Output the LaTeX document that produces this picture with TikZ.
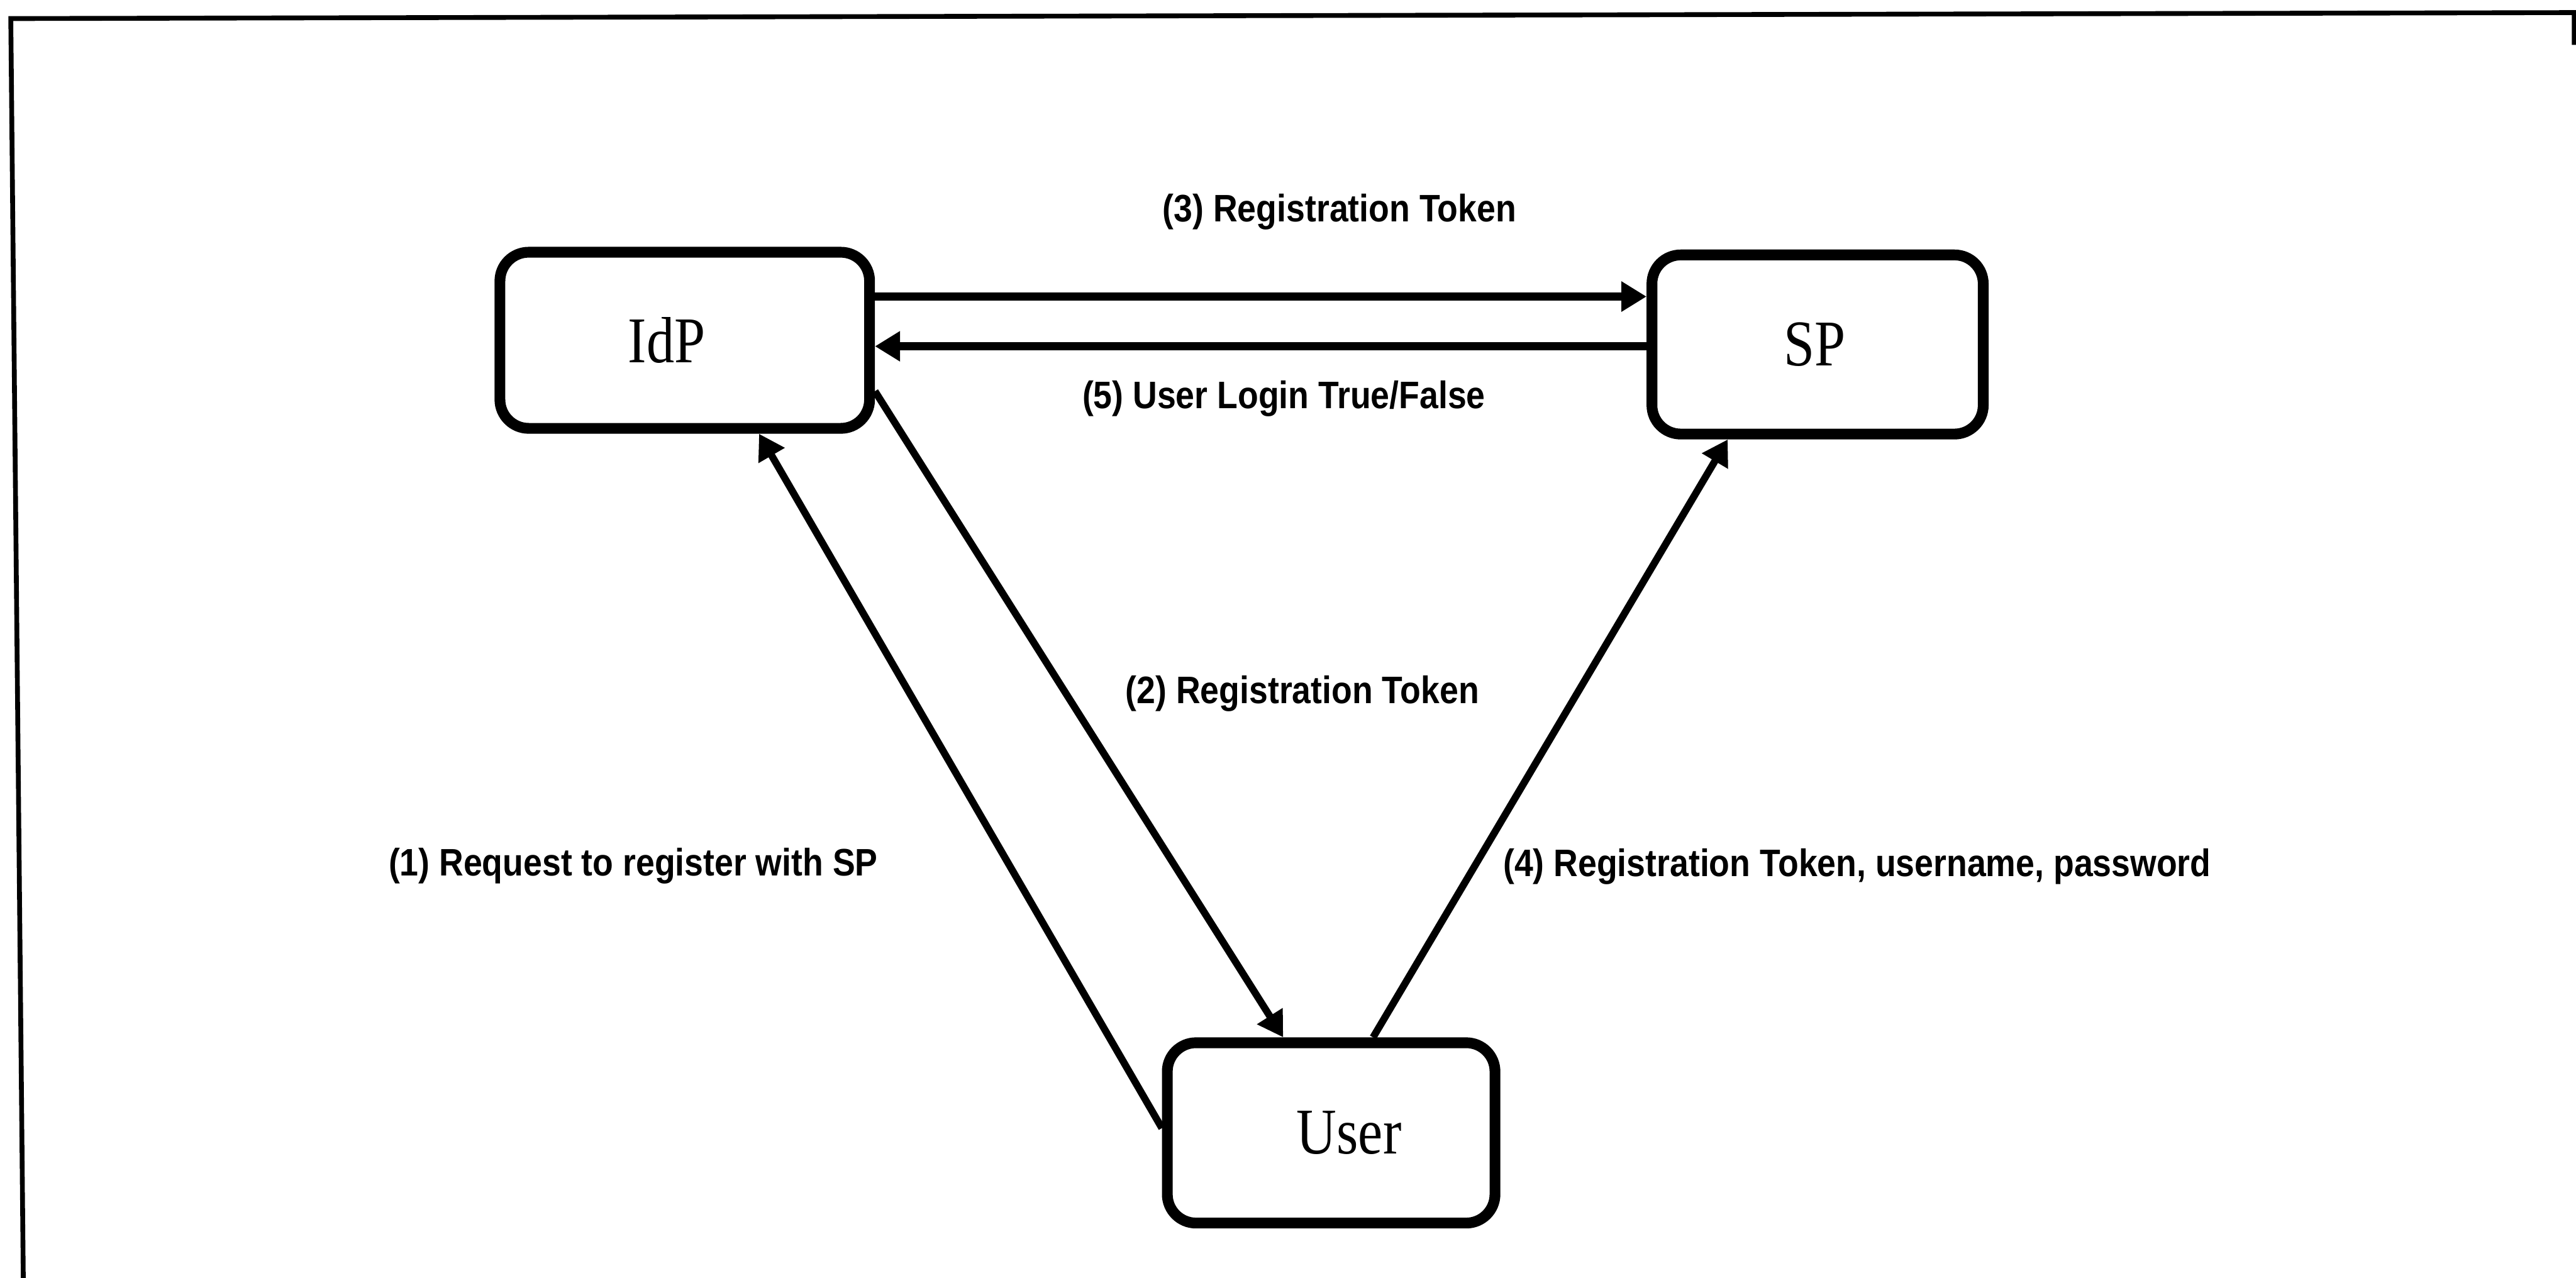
\documentclass[tikz,border=0pt]{standalone}
\usepackage{fontspec}
\setmainfont{Liberation Serif}
\newfontfamily\boxfont[FakeStretch=0.85]{Liberation Serif}
\newfontfamily\msgfont[FakeStretch=0.88]{Liberation Sans}
\usetikzlibrary{arrows.meta,calc}

\begin{document}
\begin{tikzpicture}[
  entity/.style={draw, line width=0.18cm, rounded corners=0.48cm, inner sep=0pt},
  entname/.style={font=\boxfont\fontsize{31pt}{34pt}\selectfont},
  flow/.style={line width=0.12cm, -{Triangle[length=0.42cm,width=0.48cm]}},
  hflow/.style={flow, line width=0.14cm},
  msg/.style={inner sep=0pt, font=\msgfont\bfseries\fontsize{18.2pt}{20pt}\selectfont}
]
% page and outer frame
\fill[white] (0,0) rectangle (43,-21.33);
\useasboundingbox (0,0) rectangle (43,-21.33);
\draw[line width=0.08cm, line join=miter] (42.97,-0.75) -- (42.97,-0.21) -- (0.18,-0.31) -- (0.39,-21.45);

% parties
\node[entity, minimum width=6.17cm, minimum height=2.94cm,
      label={[entname, xshift=-0.3cm]center:IdP}] (IdP) at (11.43,-5.68) {};
\node[entity, minimum width=5.53cm, minimum height=2.99cm,
      label={[entname, xshift=-0.05cm]center:SP}] (SP) at (30.34,-5.75) {};
\node[entity, minimum width=5.47cm, minimum height=3.01cm,
      label={[entname, xshift=0.3cm]center:User}] (User) at (22.22,-18.91) {};

% message flows
\draw[flow] ($(User.west)+(0,0.08)$) -- ($(IdP.south)+(1.24,0)$);
\draw[flow] ($(IdP.east)+(0,-0.85)$) -- ($(User.north)+(-0.8,0)$);
\draw[hflow] (IdP.east |- 0,-4.95) -- (SP.west |- 0,-4.95);
\draw[flow] ($(User.north)+(0.7,0)$) -- ($(SP.south)+(-1.5,0)$);
\draw[hflow] (SP.west |- 0,-5.78) -- (IdP.east |- 0,-5.78);

% message labels
\node[msg] (m1) at (10.57,-14.45) {(1) Request to register with SP};
\node[msg] (m2) at (21.74,-11.58) {(2) Registration Token};
\node[msg] (m3) at (22.36,-3.54) {(3) Registration Token};
\node[msg] (m4) at (31.00,-14.46) {(4) Registration Token, username, password};
\node[msg] (m5) at (21.43,-6.65) {(5) User Login True/False};
\end{tikzpicture}
\end{document}
